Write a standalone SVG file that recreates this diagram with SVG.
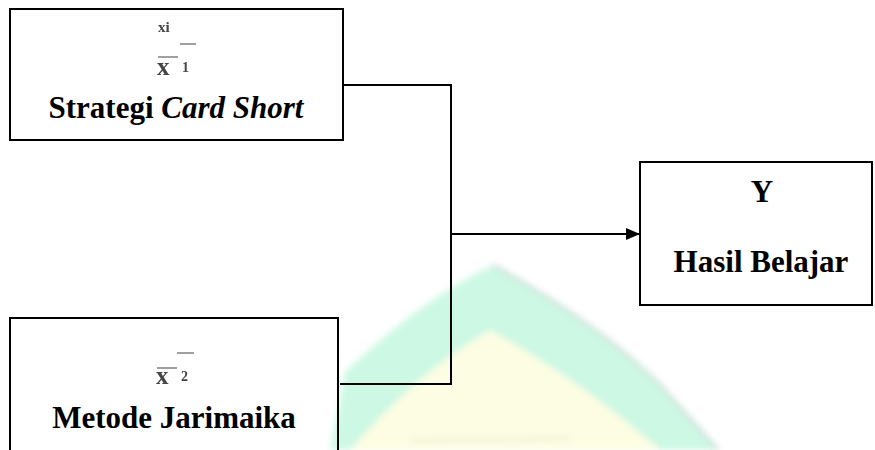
<svg xmlns="http://www.w3.org/2000/svg" width="875" height="450" viewBox="0 0 875 450">
  <style>
    .box { fill: none; stroke: #000; stroke-width: 2; }
    .lbl { font-family: "Liberation Serif", "Times New Roman", serif; font-weight: bold; font-size: 31px; fill: #000; text-anchor: middle; }
    .sym { font-family: "Liberation Serif", "Times New Roman", serif; font-weight: bold; fill: #444; }
    .bar { stroke: #777; stroke-width: 1.4; }
    .wire { fill: none; stroke: #000; stroke-width: 2; }
  </style>
  <defs>
    <marker id="arrow" viewBox="0 0 14 12" refX="14" refY="6" markerWidth="14" markerHeight="12" markerUnits="userSpaceOnUse" orient="auto">
      <path d="M0,0 L14,6 L0,12 Z" fill="#000"/>
    </marker>
    <filter id="soft" x="-10%" y="-10%" width="120%" height="120%">
      <feGaussianBlur stdDeviation="3"/>
    </filter>
    <filter id="grain" x="-20%" y="-20%" width="140%" height="140%">
      <feGaussianBlur stdDeviation="0.6"/>
    </filter>
  </defs>

  <rect width="875" height="450" fill="#fff"/>

  <!-- faint background emblem -->
  <g id="emblem" filter="url(#soft)" opacity="0.9">
    <path d="M330,450 L345,372 Q420,300 493,265 Q600,325 660,385 L720,450 Z" fill="#c8f8e2"/>
    <path d="M350,450 Q420,370 490,330 Q580,380 660,450 Z" fill="#fdfde0"/>
    <path d="M493,265 Q600,325 660,385 L718,450" fill="none" stroke="#c4d4d0" stroke-width="3"/>
    <path d="M410,441 L570,438" stroke="#eeeed0" stroke-width="3"/>
  </g>

  <g id="connectors">
    <path class="wire" d="M343,85 H451 V384 H340"/>
    <path class="wire" d="M451,234 H640" marker-end="url(#arrow)"/>
  </g>

  <g id="node-x1">
    <rect class="box" x="10" y="9" width="333" height="131"/>
    <g filter="url(#grain)">
      <text class="sym" x="158" y="32" font-size="15">xi</text>
      <line class="bar" x1="180" y1="44" x2="196" y2="44"/>
      <line class="bar" x1="158" y1="57" x2="178" y2="57"/>
      <text class="sym" x="157" y="75" font-size="25">x</text>
      <text class="sym" x="182" y="72" font-size="14">1</text>
    </g>
    <text class="lbl" x="176" y="118">Strategi <tspan font-style="italic">Card Short</tspan></text>
  </g>

  <g id="node-x2">
    <rect class="box" x="10" y="318" width="328" height="140"/>
    <g filter="url(#grain)">
      <line class="bar" x1="177" y1="353" x2="194" y2="353"/>
      <line class="bar" x1="157" y1="368" x2="177" y2="368"/>
      <text class="sym" x="156" y="384" font-size="25">x</text>
      <text class="sym" x="181" y="381" font-size="14">2</text>
    </g>
    <text class="lbl" x="174" y="428">Metode Jarimaika</text>
  </g>

  <g id="node-y">
    <rect class="box" x="640" y="162" width="232" height="143"/>
    <text class="lbl" x="762" y="202">Y</text>
    <text class="lbl" x="761" y="272">Hasil Belajar</text>
  </g>
</svg>
